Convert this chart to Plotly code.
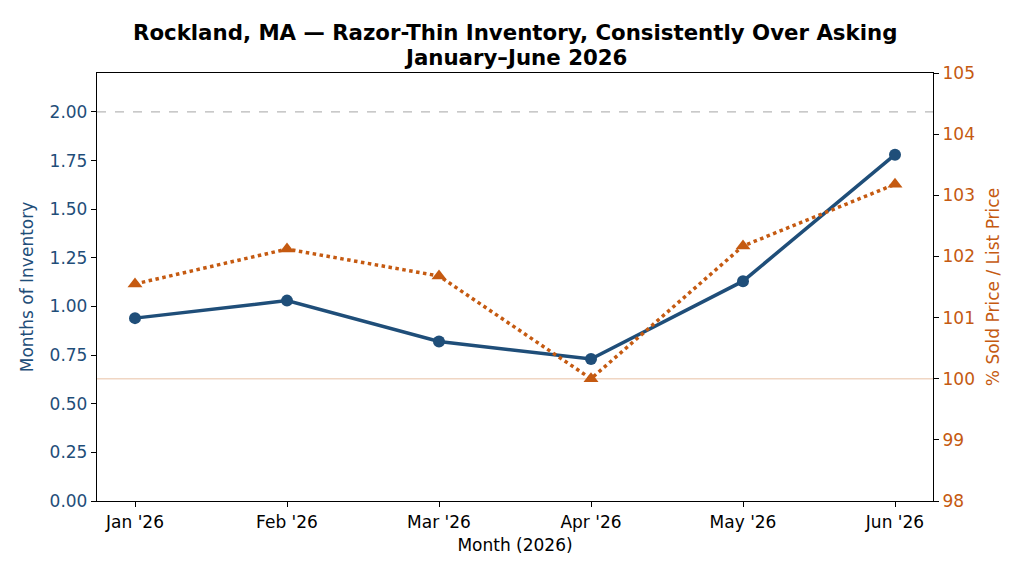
import plotly.graph_objects as go

months = ["Jan '26", "Feb '26", "Mar '26", "Apr '26", "May '26", "Jun '26"]
months_inventory = [0.94, 1.03, 0.82, 0.73, 1.13, 1.78]
sale_to_list = [101.55, 102.12, 101.68, 100.0, 102.17, 103.18]

left_ticks = [0.0, 0.25, 0.5, 0.75, 1.0, 1.25, 1.5, 1.75, 2.0]
right_ticks = [98, 99, 100, 101, 102, 103, 104, 105]

title_lines = ["Rockland, MA — Razor-Thin Inventory, Consistently Over Asking", "January–June 2026"]

BLUE = "#1f4e79"
ORANGE = "#c55a11"
FONT = "DejaVu Sans"
FS = 17

x_idx = list(range(len(months)))

fig = go.Figure()
fig.add_trace(go.Scatter(
    x=x_idx, y=sale_to_list, yaxis="y2", mode="lines+markers",
    line=dict(color=ORANGE, width=3.5, dash="dot"),
    marker=dict(symbol="triangle-up", size=13, color=ORANGE),
    showlegend=False,
))
fig.add_trace(go.Scatter(
    x=x_idx, y=months_inventory, mode="lines+markers",
    line=dict(color=BLUE, width=3.5),
    marker=dict(symbol="circle", size=12, color=BLUE),
    showlegend=False,
))

fig.add_shape(type="line", xref="paper", x0=0, x1=1, yref="y", y0=2.0, y1=2.0,
              line=dict(color="#b8b8b8", width=1.2, dash="dash"), layer="below")
fig.add_shape(type="line", xref="paper", x0=0, x1=1, yref="y2", y0=100, y1=100,
              line=dict(color="rgba(197,90,17,0.25)", width=1.5), layer="below")

# title lines as annotations for precise placement
plot_h = 576 - 73 - 75
for i, line in enumerate(title_lines):
    y_px = 33 + 24 * i  # center of text line from top
    fig.add_annotation(
        text=f"<b>{line}</b>", xref="paper", yref="paper",
        x=0.5, y=1 + (73 - y_px) / plot_h, xanchor="center", yanchor="middle",
        showarrow=False, font=dict(family=FONT, size=21.3, color="black"),
    )

fig.update_layout(
    width=1024, height=576,
    margin=dict(l=97, r=91, t=73, b=75),
    paper_bgcolor="white", plot_bgcolor="white",
    font=dict(family=FONT, size=FS, color="black"),
    xaxis=dict(
        range=[-0.25, 5.25], tickmode="array", tickvals=x_idx, ticktext=months,
        showline=True, linecolor="black", linewidth=1.3, mirror=True,
        ticks="outside", ticklen=5, tickcolor="black", showgrid=False, zeroline=False,
        title=dict(text="Month (2026)", font=dict(size=FS), standoff=8),
        tickfont=dict(size=FS),
    ),
    yaxis=dict(
        range=[0, 2.2], tickmode="array", tickvals=left_ticks,
        ticktext=[f"{v:.2f}" for v in left_ticks],
        showline=True, linecolor="black", linewidth=1.3,
        ticks="outside", ticklen=5, tickcolor="black", showgrid=False, zeroline=False,
        tickfont=dict(color=BLUE, size=FS),
        title=dict(text="Months of Inventory", font=dict(color=BLUE, size=FS), standoff=11),
    ),
    yaxis2=dict(
        range=[98, 105], tickmode="array", tickvals=right_ticks,
        overlaying="y", side="right",
        showline=True, linecolor="black", linewidth=1.3,
        ticks="outside", ticklen=5, tickcolor="black", showgrid=False, zeroline=False,
        tickfont=dict(color=ORANGE, size=FS),
        title=dict(text="% Sold Price / List Price", font=dict(color=ORANGE, size=FS), standoff=13),
    ),
)

fig.write_html("out.html")
